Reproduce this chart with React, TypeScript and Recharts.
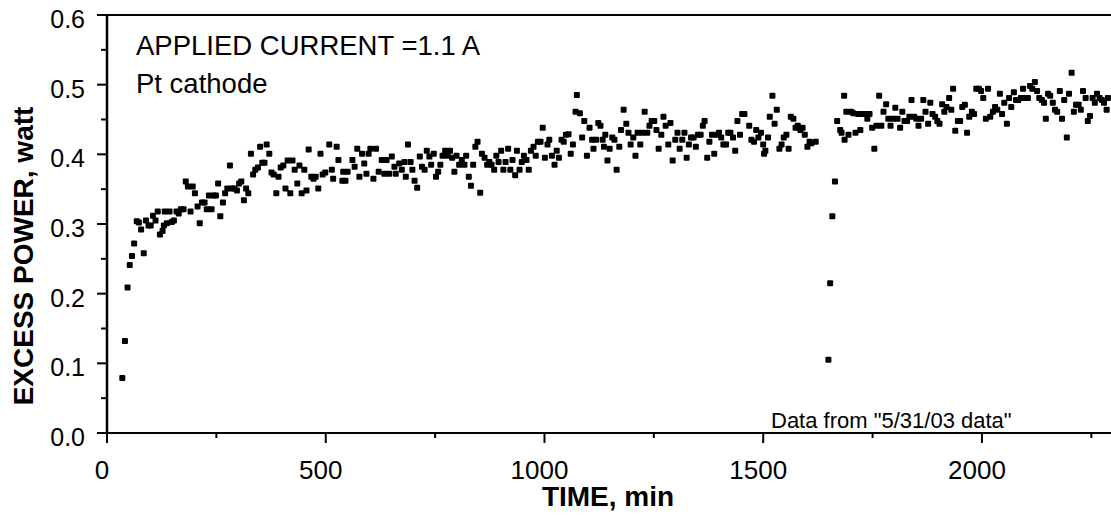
import React from 'react';
import { ScatterChart, Scatter, XAxis, YAxis, ReferenceLine } from 'recharts';

// [time in min, excess power in watt]
const startUp: [number, number][] = [
  [35, 0.079], [41, 0.132], [47, 0.209], [52, 0.241], [57, 0.254], [62, 0.272], [68, 0.304], [73, 0.302],
  [78, 0.292], [84, 0.258], [89, 0.305], [95, 0.298], [100, 0.298], [105, 0.312], [111, 0.305], [116, 0.318],
  [121, 0.285], [127, 0.29], [130, 0.298], [132, 0.318], [137, 0.301], [143, 0.318], [148, 0.303], [153, 0.305],
  [159, 0.318], [164, 0.315], [169, 0.321], [175, 0.321], [180, 0.361], [185, 0.354], [191, 0.318], [196, 0.354],
  [201, 0.344], [207, 0.325], [212, 0.301], [217, 0.331], [223, 0.331], [228, 0.321], [233, 0.341], [239, 0.321],
  [244, 0.341], [249, 0.341], [254, 0.358], [259, 0.311], [265, 0.331], [270, 0.344], [275, 0.351], [281, 0.384],
  [286, 0.351], [291, 0.351], [297, 0.348], [302, 0.358], [307, 0.361], [313, 0.334], [318, 0.351], [323, 0.344],
  [329, 0.401], [334, 0.371], [339, 0.378], [345, 0.381], [350, 0.411], [355, 0.388], [360, 0.388], [365, 0.414],
  [371, 0.401], [376, 0.374], [381, 0.371], [387, 0.344], [392, 0.368], [397, 0.381], [403, 0.384], [408, 0.351],
  [413, 0.391], [419, 0.344], [424, 0.391], [429, 0.378], [435, 0.358], [440, 0.384], [445, 0.344], [451, 0.378],
  [456, 0.348], [461, 0.407], [467, 0.368], [472, 0.365], [477, 0.368], [483, 0.351], [488, 0.401], [493, 0.371],
  [499, 0.374],
];

const plateau: [number, number][] = [
  [508, 0.414], [514, 0.378], [517, 0.365], [525, 0.411], [529, 0.392], [538, 0.362], [540, 0.375], [545, 0.362],
  [550, 0.375], [561, 0.392], [566, 0.382], [572, 0.408], [577, 0.368], [583, 0.401], [588, 0.387], [593, 0.372],
  [598, 0.401], [602, 0.408], [609, 0.365], [615, 0.408], [621, 0.375], [628, 0.392], [634, 0.372], [639, 0.392],
  [645, 0.372], [651, 0.397], [657, 0.382], [660, 0.372], [668, 0.387], [674, 0.378], [680, 0.389], [683, 0.368],
  [688, 0.414], [694, 0.389], [698, 0.378], [703, 0.362], [709, 0.352], [715, 0.397], [720, 0.382], [726, 0.378],
  [731, 0.405], [737, 0.397], [741, 0.385], [747, 0.401], [752, 0.368], [757, 0.375], [762, 0.385], [767, 0.398],
  [773, 0.405], [779, 0.398], [784, 0.405], [789, 0.395], [794, 0.375], [799, 0.398], [805, 0.385], [811, 0.392],
  [817, 0.385], [821, 0.398], [827, 0.368], [832, 0.355], [837, 0.385], [842, 0.411], [847, 0.418], [853, 0.345],
  [857, 0.401], [863, 0.395], [869, 0.385], [874, 0.389], [879, 0.385], [885, 0.378], [890, 0.398], [895, 0.389],
  [901, 0.405], [906, 0.378], [911, 0.389], [917, 0.408], [922, 0.378], [927, 0.392], [933, 0.37], [937, 0.405],
  [943, 0.378], [948, 0.389], [953, 0.398], [959, 0.392], [964, 0.378], [969, 0.405], [975, 0.411], [980, 0.398],
  [985, 0.418], [991, 0.418], [996, 0.438], [1001, 0.395], [1007, 0.414], [1011, 0.421], [1017, 0.398], [1023, 0.385],
  [1028, 0.405], [1033, 0.395], [1039, 0.421], [1044, 0.418], [1049, 0.428], [1055, 0.429], [1060, 0.401], [1065, 0.414],
  [1071, 0.461], [1074, 0.485],
];

const beforeDrop: [number, number][] = [
  [1081, 0.459], [1086, 0.424], [1091, 0.448], [1097, 0.398], [1103, 0.438], [1109, 0.421], [1112, 0.408], [1118, 0.421],
  [1123, 0.445], [1128, 0.441], [1133, 0.421], [1136, 0.411], [1139, 0.428], [1144, 0.391], [1149, 0.408], [1155, 0.424],
  [1160, 0.421], [1165, 0.378], [1171, 0.411], [1175, 0.435], [1181, 0.464], [1187, 0.444], [1192, 0.431], [1197, 0.414],
  [1203, 0.424], [1208, 0.398], [1213, 0.431], [1219, 0.414], [1224, 0.431], [1229, 0.461], [1235, 0.431], [1240, 0.441],
  [1245, 0.448], [1251, 0.448], [1256, 0.435], [1261, 0.408], [1267, 0.428], [1272, 0.454], [1277, 0.441], [1283, 0.414],
  [1288, 0.445], [1293, 0.391], [1299, 0.421], [1304, 0.431], [1309, 0.408], [1315, 0.421], [1320, 0.431], [1325, 0.395],
  [1330, 0.414], [1335, 0.424], [1341, 0.424], [1346, 0.411], [1351, 0.428], [1357, 0.428], [1362, 0.441], [1366, 0.448],
  [1372, 0.395], [1377, 0.418], [1383, 0.428], [1388, 0.401], [1393, 0.428], [1399, 0.431], [1404, 0.424], [1409, 0.414],
  [1415, 0.414], [1420, 0.431], [1425, 0.431], [1431, 0.424], [1436, 0.405], [1441, 0.448], [1447, 0.428], [1452, 0.458],
  [1457, 0.458], [1468, 0.441], [1473, 0.421], [1479, 0.418], [1484, 0.435], [1489, 0.424], [1495, 0.431], [1500, 0.414],
  [1502, 0.401], [1505, 0.405], [1511, 0.424], [1515, 0.454], [1521, 0.484], [1526, 0.444], [1531, 0.464], [1537, 0.408],
  [1542, 0.414], [1547, 0.424], [1553, 0.428], [1558, 0.408], [1563, 0.454], [1569, 0.451], [1574, 0.438], [1579, 0.441],
  [1585, 0.435], [1590, 0.438], [1595, 0.428], [1601, 0.411], [1606, 0.418], [1610, 0.416], [1620, 0.418],
];

const recovery: [number, number][] = [
  [1649, 0.105], [1653, 0.215], [1658, 0.311], [1664, 0.361],
];

const lateRun: [number, number][] = [
  [1669, 0.448], [1676, 0.435], [1679, 0.431], [1685, 0.484], [1686, 0.421], [1690, 0.461], [1695, 0.428], [1701, 0.461],
  [1706, 0.459], [1711, 0.431], [1717, 0.458], [1722, 0.435], [1727, 0.458], [1733, 0.458], [1738, 0.451], [1743, 0.458],
  [1749, 0.438], [1754, 0.408], [1759, 0.441], [1765, 0.484], [1770, 0.441], [1775, 0.461], [1781, 0.472], [1786, 0.451],
  [1791, 0.441], [1797, 0.451], [1802, 0.467], [1807, 0.451], [1813, 0.438], [1818, 0.461], [1823, 0.448], [1829, 0.448],
  [1834, 0.454], [1839, 0.478], [1845, 0.454], [1850, 0.451], [1855, 0.441], [1861, 0.451], [1866, 0.478], [1871, 0.461],
  [1877, 0.444], [1882, 0.474], [1887, 0.458], [1893, 0.454], [1898, 0.448], [1903, 0.444], [1909, 0.472], [1914, 0.461],
  [1919, 0.468], [1925, 0.481], [1930, 0.464], [1934, 0.494], [1939, 0.434], [1945, 0.448], [1950, 0.448], [1955, 0.468],
  [1961, 0.471], [1966, 0.431], [1971, 0.454], [1977, 0.461], [1982, 0.458], [1987, 0.494], [1993, 0.494], [1998, 0.491],
  [2003, 0.481], [2009, 0.451], [2014, 0.494], [2019, 0.454], [2025, 0.461], [2030, 0.468], [2035, 0.464], [2041, 0.487],
  [2046, 0.458], [2051, 0.474], [2057, 0.444], [2062, 0.481], [2067, 0.468], [2073, 0.489], [2078, 0.478], [2083, 0.478],
  [2089, 0.481], [2094, 0.494], [2099, 0.481], [2105, 0.481], [2110, 0.498], [2115, 0.494], [2121, 0.504], [2126, 0.491],
  [2131, 0.481], [2137, 0.478], [2142, 0.474], [2146, 0.451], [2151, 0.487], [2156, 0.484], [2162, 0.474], [2167, 0.464],
  [2172, 0.461], [2178, 0.491], [2183, 0.451], [2188, 0.478], [2194, 0.424], [2199, 0.487], [2205, 0.517], [2210, 0.461],
  [2215, 0.471], [2221, 0.471], [2226, 0.464], [2231, 0.491], [2237, 0.481], [2242, 0.448], [2247, 0.455], [2253, 0.481],
  [2258, 0.474], [2263, 0.487], [2269, 0.481], [2274, 0.478], [2279, 0.474], [2285, 0.464], [2288, 0.481],
];

const xTicks = [0, 250, 500, 750, 1000, 1250, 1500, 1750, 2000, 2250];
const yTicks = [0, 0.05, 0.1, 0.15, 0.2, 0.25, 0.3, 0.35, 0.4, 0.45, 0.5, 0.55, 0.6];

const FONT = '"Liberation Sans", Arial, Helvetica, sans-serif';

const data = [...startUp, ...plateau, ...beforeDrop, ...recovery, ...lateRun].map(([t, v]) => ({ t, v }));

const XTick = (props: any) => {
  const { x, y, payload } = props;
  const major = payload.value % 500 === 0;
  return (
    <g>
      <line x1={x} x2={x} y1={y} y2={y + (major ? 10 : 5)} stroke="#000" strokeWidth={2} />
      {major && (
        <text x={x - 5} y={y + 46} textAnchor="middle" fontSize={26} fontFamily={FONT} fill="#000">
          {payload.value}
        </text>
      )}
    </g>
  );
};

const YTick = (props: any) => {
  const { x, y, payload } = props;
  const major = Math.round(payload.value * 100) % 10 === 0;
  return (
    <g>
      <line x1={x - (major ? 10 : 6)} x2={x} y1={y} y2={y} stroke="#000" strokeWidth={2} />
      {major && (
        <text x={x - 22} y={y + 13} textAnchor="end" fontSize={25} fontFamily={FONT} fill="#000">
          {payload.value.toFixed(1)}
        </text>
      )}
    </g>
  );
};

const Square = (props: any) => {
  const { cx, cy } = props;
  return <rect x={cx - 3} y={cy - 3} width={6} height={6} rx={1} fill="#000" />;
};

const App: React.FC = () => {
  return (
    <div style={{ position: 'absolute', left: 0, top: 0, width: 1111, height: 515, background: '#fff', overflow: 'hidden' }}>
      <ScatterChart width={1111} height={515} margin={{ top: 15, right: 0, bottom: 0, left: 0 }}>
        <XAxis
          type="number"
          dataKey="t"
          domain={[0, 2295]}
          ticks={xTicks}
          interval={0}
          height={82}
          tickSize={0}
          tickMargin={0}
          tickLine={false}
          tick={<XTick />}
          axisLine={{ stroke: '#000', strokeWidth: 2 }}
        />
        <YAxis
          type="number"
          dataKey="v"
          domain={[0, 0.6]}
          ticks={yTicks}
          interval={0}
          width={107}
          tickSize={0}
          tickMargin={0}
          tickLine={false}
          tick={<YTick />}
          axisLine={{ stroke: '#000', strokeWidth: 2.5 }}
        />
        <ReferenceLine y={0.6} stroke="#000" strokeWidth={2} />
        <Scatter data={data} shape={<Square />} isAnimationActive={false} />
      </ScatterChart>
      <svg width={1111} height={515} style={{ position: 'absolute', left: 0, top: 0, pointerEvents: 'none' }}>
        <g fontFamily={FONT} fill="#000">
          <text x={136} y={55} fontSize={27.5}>APPLIED CURRENT =1.1 A</text>
          <text x={136} y={93} fontSize={27.5}>Pt cathode</text>
          <text x={771} y={428} fontSize={22}>Data from "5/31/03 data"</text>
          <text x={608} y={506} fontSize={28} fontWeight="bold" textAnchor="middle">TIME, min</text>
          <text x={33} y={256} fontSize={28} fontWeight="bold" textAnchor="middle" transform="rotate(-90, 33, 256)">
            EXCESS POWER, watt
          </text>
        </g>
      </svg>
    </div>
  );
};

export default App;
